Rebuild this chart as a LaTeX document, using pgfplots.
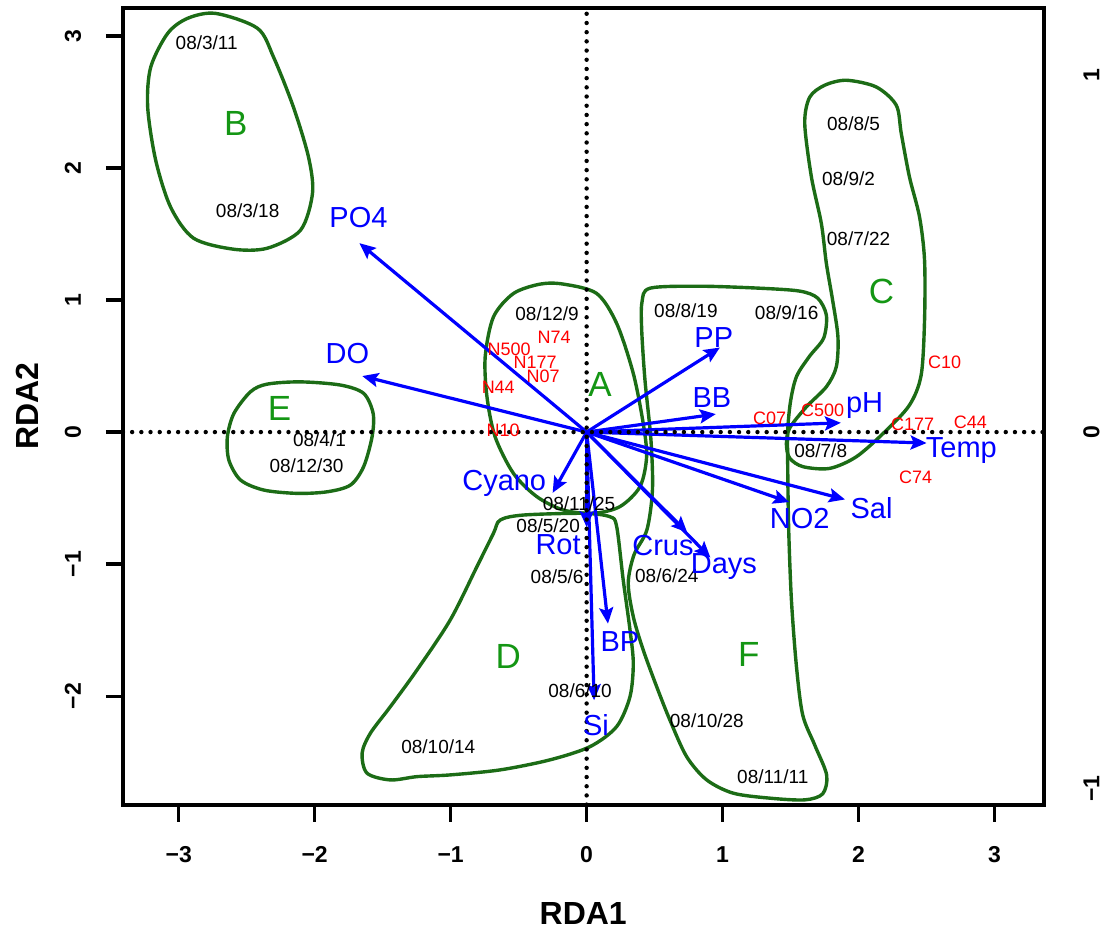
\documentclass[border=0pt]{standalone}
\usepackage{fontspec}
\setmainfont{Liberation Sans}
\usepackage{pgfplots}
\pgfplotsset{compat=1.18}
\usetikzlibrary{arrows.meta}
\definecolor{dkgreen}{RGB}{28,108,22}
\definecolor{ltrgreen}{RGB}{20,150,20}
\definecolor{arrblue}{RGB}{0,0,255}
\begin{document}
\begin{tikzpicture}
\begin{axis}[
  scale only axis, width=460.5pt, height=398.5pt,
  xmin=-3.41, xmax=3.36, ymin=-2.82, ymax=3.21,
  axis line style={line width=2pt},
  xtick={-3,-2,-1,0,1,2,3},
  xticklabels={−3,−2,−1,0,1,2,3},
  ytick={-2,-1,0,1,2,3},
  yticklabels={−2,−1,0,1,2,3},
  xtick pos=bottom, ytick pos=left,
  tick align=outside, major tick length=8.5pt,
  tick style={line width=1.8pt, black},
  xticklabel style={font=\bfseries\fontsize{11.5}{11.5}\selectfont, anchor=center},
  yticklabel style={font=\bfseries\fontsize{11.5}{11.5}\selectfont, anchor=center, rotate=90},
  xticklabel shift=16.5pt, yticklabel shift=16.5pt,
  xlabel={RDA1}, ylabel={RDA2},
  xlabel style={font=\bfseries\fontsize{16}{16}\selectfont, at={(axis description cs:0.5,-0.1368)}, anchor=center},
  ylabel style={font=\bfseries\fontsize{16}{16}\selectfont, at={(axis description cs:-0.1042,0.5)}, anchor=center},
  clip=false,
]
\coordinate (SW) at (rel axis cs:0,0);
\coordinate (NE) at (rel axis cs:1,1);

% ---- group outlines ----
% A
\addplot[dkgreen, line width=1.7pt, smooth cycle] coordinates {
(-0.171,1.120) (0.074,1.049) (0.221,0.822) (0.343,0.444) (0.416,0.066) (0.441,-0.187)
(0.392,-0.414) (0.245,-0.564) (0.049,-0.615) (-0.171,-0.590) (-0.366,-0.489) (-0.538,-0.313)
(-0.673,-0.036) (-0.733,0.267) (-0.746,0.570) (-0.685,0.872) (-0.538,1.049) (-0.342,1.120)};
% B
\addplot[dkgreen, line width=1.7pt, smooth cycle] coordinates {
(-2.728,3.169) (-2.420,3.056) (-2.302,2.837) (-2.156,2.459) (-2.045,2.080) (-2.016,1.808)
(-2.104,1.528) (-2.347,1.392) (-2.596,1.384) (-2.890,1.467) (-3.059,1.702) (-3.169,2.057)
(-3.228,2.459) (-3.206,2.761) (-3.081,3.018) (-2.934,3.132)};
% C
\addplot[dkgreen, line width=1.7pt, smooth cycle] coordinates {
(1.910,2.663) (2.130,2.612) (2.277,2.474) (2.314,2.259) (2.374,1.931) (2.448,1.629)
(2.485,1.301) (2.485,0.847) (2.460,0.431) (2.374,0.204) (2.191,0.000) (1.983,-0.187)
(1.787,-0.275) (1.591,-0.262) (1.493,-0.197) (1.469,-0.091) (1.493,0.030) (1.616,0.191)
(1.763,0.343) (1.836,0.494) (1.848,0.721) (1.809,0.998) (1.763,1.276) (1.726,1.579)
(1.653,1.931) (1.604,2.335) (1.640,2.534) (1.750,2.625)};
% D
\addplot[dkgreen, line width=1.7pt, smooth cycle] coordinates {
(-0.636,-0.666) (-0.465,-0.628) (-0.024,-0.615) (0.172,-0.641) (0.221,-0.716) (0.269,-1.120)
(0.319,-1.498) (0.343,-1.750) (0.319,-2.002) (0.221,-2.229) (0.025,-2.381) (-0.269,-2.481)
(-0.636,-2.557) (-1.003,-2.595) (-1.247,-2.608) (-1.443,-2.633) (-1.615,-2.582) (-1.651,-2.430)
(-1.590,-2.279) (-1.443,-2.078) (-1.247,-1.800) (-1.003,-1.422) (-0.807,-1.019) (-0.685,-0.766)};
% E
\addplot[dkgreen, line width=1.7pt, smooth cycle] coordinates {
(-2.104,0.380) (-1.811,0.356) (-1.640,0.293) (-1.570,0.141) (-1.578,-0.036) (-1.640,-0.262)
(-1.737,-0.401) (-1.908,-0.452) (-2.128,-0.464) (-2.374,-0.439) (-2.545,-0.363) (-2.631,-0.212)
(-2.642,-0.036) (-2.594,0.141) (-2.472,0.305) (-2.349,0.363)};
% F
\addplot[dkgreen, line width=1.7pt, smooth cycle] coordinates {
(0.466,1.089) (0.833,1.104) (1.273,1.089) (1.567,1.067) (1.699,1.014) (1.763,0.885)
(1.743,0.711) (1.640,0.575) (1.545,0.424) (1.501,0.242) (1.479,0.015) (1.479,-0.287)
(1.486,-0.741) (1.506,-1.271) (1.543,-1.775) (1.589,-2.141) (1.677,-2.368) (1.765,-2.595)
(1.736,-2.738) (1.604,-2.784) (1.347,-2.771) (1.077,-2.733) (0.882,-2.632) (0.735,-2.456)
(0.612,-2.179) (0.515,-1.927) (0.416,-1.649) (0.343,-1.397) (0.306,-1.144) (0.348,-0.930)
(0.443,-0.741) (0.484,-0.439) (0.473,-0.061) (0.429,0.393) (0.405,0.772) (0.407,0.983)};

% ---- environmental arrows ----
\tikzset{envarr/.style={arrblue, line width=1.6pt, -{Stealth[length=8pt,width=7pt,inset=1.5pt]}}}
\addplot[envarr] coordinates {(0,0) (-1.671,1.430)};  % PO4
\addplot[envarr] coordinates {(0,0) (-1.650,0.424)};  % DO
\addplot[envarr] coordinates {(0,0) (0.980,0.640)};   % PP
\addplot[envarr] coordinates {(0,0) (0.950,0.136)};   % BB
\addplot[envarr] coordinates {(0,0) (1.870,0.070)};   % pH
\addplot[envarr] coordinates {(0,0) (2.500,-0.083)};  % Temp
\addplot[envarr] coordinates {(0,0) (1.900,-0.510)};  % Sal
\addplot[envarr] coordinates {(0,0) (1.490,-0.530)};  % NO2
\addplot[envarr] coordinates {(0,0) (0.740,-0.760)};  % Crus
\addplot[envarr] coordinates {(0,0) (0.910,-0.950)};  % Days
\addplot[envarr] coordinates {(0,0) (-0.250,-0.460)}; % Cyano
\addplot[envarr] coordinates {(0,0) (0.000,-0.720)};  % Rot
\addplot[envarr] coordinates {(0,0) (0.157,-1.450)};  % BP
\addplot[envarr] coordinates {(0,0) (0.055,-2.030)};  % Si

% ---- zero lines ----
\addplot[black, line width=2.2pt, line cap=round, dash pattern=on 0pt off 4.6pt] coordinates {(-3.41,0) (3.36,0)};
\addplot[black, line width=2.2pt, line cap=round, dash pattern=on 0pt off 4.6pt] coordinates {(0,-2.82) (0,3.21)};

% ---- sample dates ----
\begin{scope}[every node/.style={font=\fontsize{9.5}{9.5}\selectfont, text=black, inner sep=0pt}]
\node at (axis cs:-2.794,2.950) {08/3/11};
\node at (axis cs:-2.493,1.672) {08/3/18};
\node at (axis cs:-1.965,-0.061) {08/4/1};
\node at (axis cs:-2.060,-0.257) {08/12/30};
\node at (axis cs:-0.291,0.893) {08/12/9};
\node at (axis cs:-0.056,-0.545) {08/11/25};
\node at (axis cs:-0.283,-0.711) {08/5/20};
\node at (axis cs:-0.217,-1.097) {08/5/6};
\node at (axis cs:-0.048,-1.959) {08/6/10};
\node at (axis cs:-1.091,-2.383) {08/10/14};
\node at (axis cs:0.590,-1.089) {08/6/24};
\node at (axis cs:0.884,-2.186) {08/10/28};
\node at (axis cs:1.369,-2.610) {08/11/11};
\node at (axis cs:0.730,0.915) {08/8/19};
\node at (axis cs:1.471,0.900) {08/9/16};
\node at (axis cs:1.963,2.337) {08/8/5};
\node at (axis cs:1.926,1.914) {08/9/2};
\node at (axis cs:2.000,1.460) {08/7/22};
\node at (axis cs:1.721,-0.144) {08/7/8};
\end{scope}

% ---- station labels ----
\begin{scope}[every node/.style={font=\fontsize{9}{9}\selectfont, text=red, inner sep=0pt}]
\node at (axis cs:-0.239,0.719) {N74};
\node at (axis cs:-0.570,0.628) {N500};
\node at (axis cs:-0.379,0.530) {N177};
\node at (axis cs:-0.320,0.424) {N07};
\node at (axis cs:-0.650,0.340) {N44};
\node at (axis cs:-0.614,0.015) {N10};
\node at (axis cs:1.345,0.106) {C07};
\node at (axis cs:1.736,0.166) {C500};
\node at (axis cs:2.397,0.061) {C177};
\node at (axis cs:2.822,0.076) {C44};
\node at (axis cs:2.632,0.530) {C10};
\node at (axis cs:2.419,-0.340) {C74};
\end{scope}

% ---- variable labels ----
\begin{scope}[every node/.style={font=\fontsize{14.5}{14.5}\selectfont, text=arrblue, inner sep=0pt}]
\node at (axis cs:-1.678,1.626) {PO4};
\node at (axis cs:-1.759,0.598) {DO};
\node at (axis cs:0.935,0.719) {PP};
\node at (axis cs:0.921,0.265) {BB};
\node at (axis cs:2.044,0.204) {pH};
\node at (axis cs:2.756,-0.136) {Temp};
\node at (axis cs:2.095,-0.575) {Sal};
\node at (axis cs:1.567,-0.651) {NO2};
\node at (axis cs:-0.606,-0.386) {Cyano};
\node at (axis cs:-0.210,-0.855) {Rot};
\node at (axis cs:0.561,-0.855) {Crus};
\node at (axis cs:1.009,-1.021) {Days};
\node at (axis cs:0.245,-1.589) {BP};
\node at (axis cs:0.069,-2.216) {Si};
\end{scope}

% ---- group letters ----
\begin{scope}[every node/.style={font=\fontsize{17.5}{17.5}\selectfont, text=ltrgreen, inner sep=0pt}]
\node at (axis cs:0.098,0.363) {A};
\node at (axis cs:-2.581,2.337) {B};
\node at (axis cs:2.168,1.067) {C};
\node at (axis cs:-0.577,-1.702) {D};
\node at (axis cs:-2.258,0.182) {E};
\node at (axis cs:1.192,-1.687) {F};
\end{scope}
\end{axis}

% right-hand axis (second scale)
\begin{axis}[
  scale only axis, width=460.5pt, height=398.5pt,
  xmin=-3.41, xmax=3.36, ymin=-1.0444, ymax=1.1889,
  hide x axis, axis y line*=right,
  axis line style={draw=none},
  ytick={-1,0,1}, yticklabels={−1,0,1},
  major tick length=0pt,
  yticklabel style={font=\bfseries\fontsize{11.5}{11.5}\selectfont, anchor=center, rotate=90},
  yticklabel shift=24pt,
]
\end{axis}

\pgfresetboundingbox
\path[use as bounding box] ([shift={(-61.5pt,-63pt)}]SW) rectangle ([shift={(32.25pt,4pt)}]NE);
\end{tikzpicture}
\end{document}
